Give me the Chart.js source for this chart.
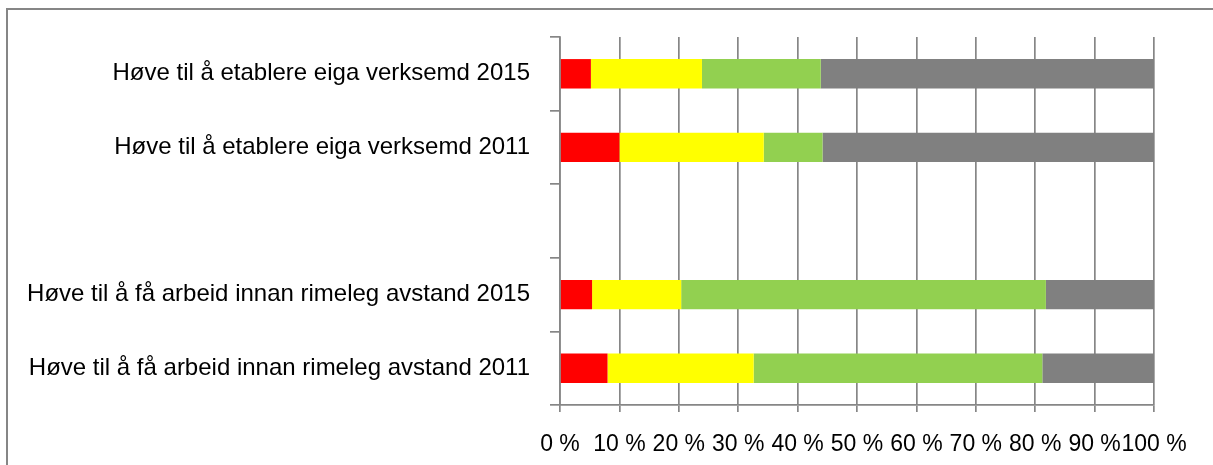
<!DOCTYPE html>
<html>
<head>
<meta charset="utf-8">
<script src="https://cdn.jsdelivr.net/npm/chart.js@4/dist/chart.umd.min.js"></script>
<style>
  body { margin: 0; background: #fff; }
  #wrap { width: 1213px; height: 465px; position: relative; }
</style>
</head>
<body>
<div id="wrap"><canvas id="chart" width="1213" height="465"></canvas></div>
<script>
// categories, top to bottom (the blank one is the gap between the two groups)
const categories = [
  "Høve til å etablere eiga verksemd 2015",
  "Høve til å etablere eiga verksemd 2011",
  "",
  "Høve til å få arbeid innan rimeleg avstand 2015",
  "Høve til å få arbeid innan rimeleg avstand 2011"
];

// share in percent
const redValues    = [5.2, 10.0, null, 5.4, 8.0];
const yellowValues = [18.7, 24.3, null, 15.0, 24.6];
const greenValues  = [20.0, 9.9, null, 61.4, 48.6];
const greyValues   = [56.1, 55.8, null, 18.2, 18.8];

const xTicks = [0, 10, 20, 30, 40, 50, 60, 70, 80, 90, 100];

const FONT = "'Liberation Sans', Arial, sans-serif";
const GRID = "#868686";

// grey frame at the left and top edge, like the cropped document box
const framePlugin = {
  id: "frame",
  beforeDraw(chart) {
    const c = chart.ctx;
    c.save();
    c.strokeStyle = GRID;
    c.lineWidth = 2;
    c.beginPath();
    c.moveTo(7, chart.height);
    c.lineTo(7, 9);
    c.lineTo(chart.width, 9);
    c.stroke();
    c.restore();
  }
};

new Chart(document.getElementById("chart").getContext("2d"), {
  type: "bar",
  data: {
    labels: categories,
    datasets: [
      { label: "red", data: redValues, backgroundColor: "#FF0000" },
      { label: "yellow", data: yellowValues, backgroundColor: "#FFFF00" },
      { label: "green", data: greenValues, backgroundColor: "#92D050" },
      { label: "grey", data: greyValues, backgroundColor: "#808080" }
    ]
  },
  options: {
    indexAxis: "y",
    responsive: false,
    animation: false,
    layout: { padding: { left: 0, right: 59, top: 37, bottom: 0 } },
    datasets: {
      bar: { categoryPercentage: 0.8, barPercentage: 0.5, borderWidth: 0 }
    },
    scales: {
      x: {
        stacked: true,
        min: 0,
        max: 100,
        afterBuildTicks(scale) {
          scale.ticks = xTicks.map(v => ({ value: v }));
        },
        afterFit(scale) { scale.height = 60; },
        grid: { color: GRID, lineWidth: 1.7, tickLength: 7, drawTicks: true },
        border: { color: GRID, width: 1.7 },
        ticks: {
          autoSkip: false,
          maxRotation: 0,
          padding: 19,
          color: "#000",
          font: { family: FONT, size: 23 },
          callback: v => v + " %"
        }
      },
      y: {
        stacked: true,
        afterFit(scale) { scale.width = 560; },
        grid: { offset: true, drawOnChartArea: false, color: GRID, lineWidth: 1.7, tickLength: 10 },
        border: { color: GRID, width: 1.7 },
        ticks: {
          padding: 20,
          color: "#000",
          font: { family: FONT, size: 24 }
        }
      }
    },
    plugins: {
      legend: { display: false },
      tooltip: { enabled: false }
    }
  },
  plugins: [framePlugin]
});
</script>
</body>
</html>
